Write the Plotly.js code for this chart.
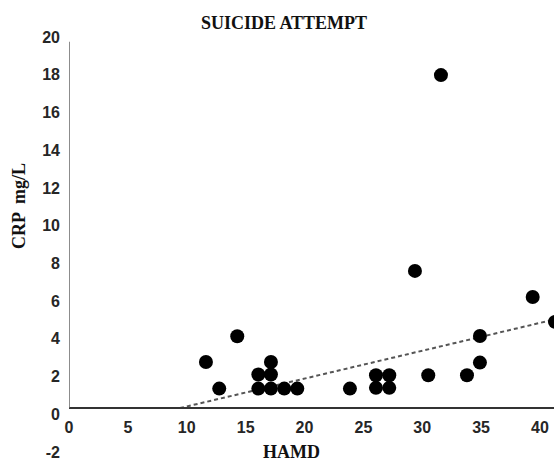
<!DOCTYPE html>
<html>
<head>
<meta charset="utf-8">
<script src="https://cdn.plot.ly/plotly-3.0.1.min.js"></script>
<style>html,body{margin:0;padding:0;background:#fff;}#chart{width:554px;height:461px;}</style>
</head>
<body>
<div id="chart"></div>
<script>
// HAMD score (x) and CRP mg/L (y)
const hamd = [11.63, 12.76, 14.29, 16.08, 16.08, 17.15, 17.15, 17.15, 18.28, 19.39, 23.86,
              26.07, 27.2, 26.07, 27.2, 29.38, 30.51, 31.59, 33.8, 34.9, 34.9, 39.38, 41.27];
const crp  = [2.77, 1.36, 4.14, 2.11, 1.36, 2.77, 2.11, 1.36, 1.36, 1.36, 1.36,
              2.07, 2.07, 1.40, 1.40, 7.6, 2.07, 17.98, 2.07, 2.74, 4.15, 6.22, 4.9];
// linear trendline end points (as drawn in the reference)
const trendX = [9.43, 41.19];
const trendY = [0.33, 5.02];
const xTicks = [0, 5, 10, 15, 20, 25, 30, 35, 40];
const yTicks = [-2, 0, 2, 4, 6, 8, 10, 12, 14, 16, 18, 20];

const tickFont = {family: 'Liberation Sans, Arial, sans-serif', size: 16, color: '#262626', weight: 'bold'};
const serifBold = {family: 'Liberation Serif, Times New Roman, serif', size: 18, color: '#111', weight: 'bold'};

const traces = [
  {x: trendX, y: trendY, mode: 'lines', type: 'scatter',
   line: {color: '#555', width: 2, dash: '4px,3px'}, hoverinfo: 'skip'},
  {x: hamd, y: crp, mode: 'markers', type: 'scatter',
   marker: {color: '#000', size: 14}}
];

const layout = {
  width: 554, height: 461,
  margin: {l: 69, r: 0, t: 37, b: 9, pad: 0},
  paper_bgcolor: '#fff', plot_bgcolor: '#fff',
  showlegend: false,
  title: {text: 'SUICIDE ATTEMPT', font: serifBold, x: 0.5126, xref: 'container', xanchor: 'center',
          y: 0.951, yref: 'container', yanchor: 'middle'},
  xaxis: {range: [0, 41.19], tickvals: xTicks, ticktext: xTicks.map(String), showgrid: false, zeroline: false,
          showline: false, ticks: '', tickfont: tickFont, anchor: 'free', position: 0.087, fixedrange: true},
  yaxis: {range: [-2, 20], tickvals: yTicks, ticktext: yTicks.map(String), showgrid: false, zeroline: false,
          showline: false, ticks: '', tickfont: tickFont, ticklabelstandoff: 8, fixedrange: true},
  shapes: [
    {type: 'line', xref: 'x', yref: 'y', x0: 0, x1: 41.19, y0: 0.33, y1: 0.33, line: {color: '#333', width: 2}},
    {type: 'line', xref: 'x', yref: 'y', x0: 0, x1: 0, y0: 0.33, y1: 19.75, line: {color: '#666', width: 1.5}}
  ],
  annotations: [
    {text: 'HAMD', xref: 'paper', yref: 'paper', x: 0.4588, y: 0.0, xanchor: 'center', yanchor: 'middle',
     showarrow: false, font: serifBold},
    {text: 'CRP  mg/L', xref: 'paper', yref: 'paper', x: -0.103, y: 0.593, xanchor: 'center', yanchor: 'middle',
     textangle: -90, showarrow: false, font: serifBold}
  ]
};

Plotly.newPlot('chart', traces, layout, {staticPlot: true, displayModeBar: false});
</script>
</body>
</html>
